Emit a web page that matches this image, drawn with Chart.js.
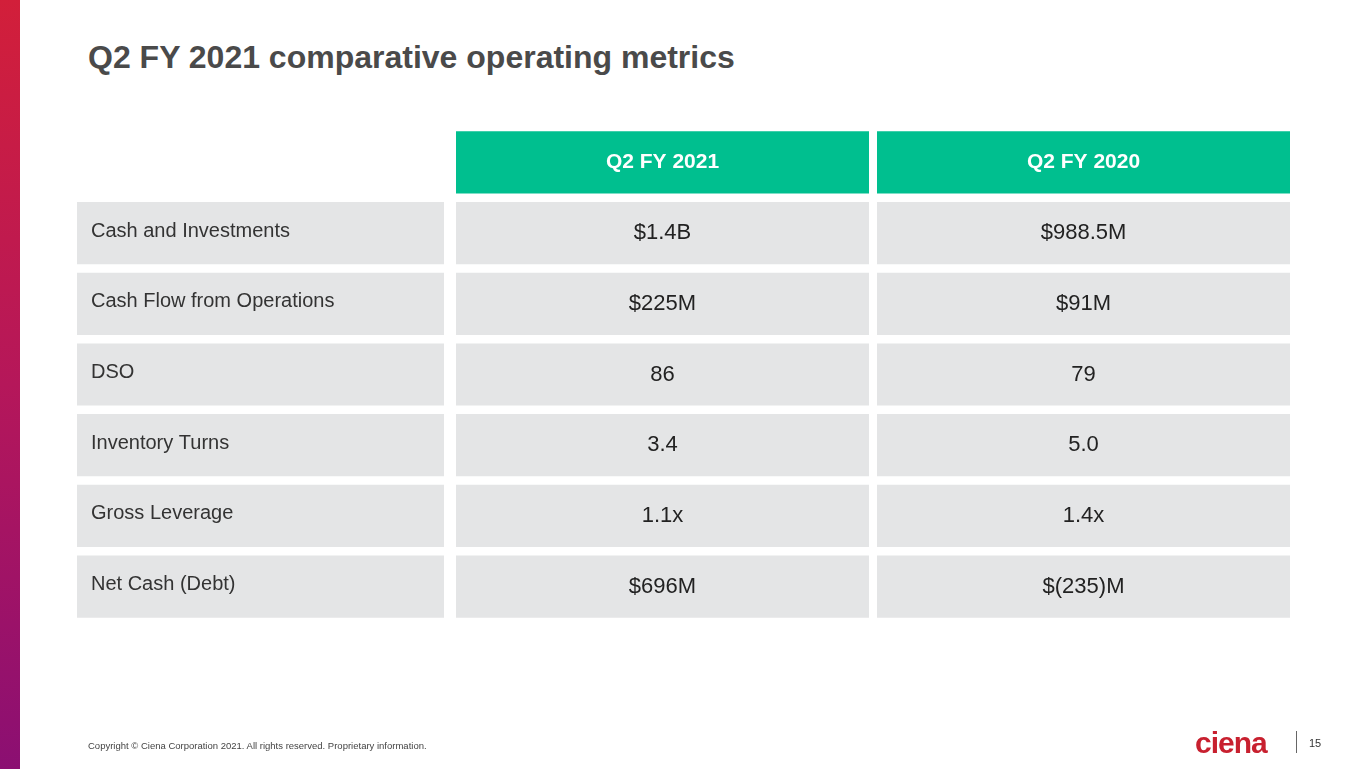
<!DOCTYPE html>
<html>
<head>
<meta charset="utf-8">
<script src="https://cdn.jsdelivr.net/npm/chart.js@4"></script>
<style>
  body { margin: 0; width: 1365px; height: 769px; overflow: hidden; background: #fff; font-family: "Liberation Sans", Arial, sans-serif; position: relative; }
  #strip { position: absolute; left: 0; top: 0; width: 20px; height: 769px; background: linear-gradient(#d21f3a, #b5175a 50%, #8b0f72); }
  h1 { position: absolute; left: 88px; top: 39px; margin: 0; font-size: 32px; font-weight: bold; color: #4a4a4a; }
  #copy { position: absolute; left: 88px; top: 740px; font-size: 9.5px; color: #444; }
  #logo { position: absolute; left: 1195px; top: 726px; font-size: 30px; font-weight: bold; color: #c8202f; letter-spacing: -1px; }
  #sep { position: absolute; left: 1296px; top: 731px; width: 1px; height: 22px; background: #666; }
  #page { position: absolute; left: 1309px; top: 737px; font-size: 11px; color: #333; }
  #wrap { position: absolute; left: 0; top: 0; width: 1365px; height: 769px; }
</style>
</head>
<body>
<div id="strip"></div>
<h1>Q2 FY 2021 comparative operating metrics</h1>
<div id="wrap"><canvas id="chart"></canvas></div>
<div id="copy">Copyright © Ciena Corporation 2021. All rights reserved. Proprietary information.</div>
<div id="logo">ciena</div>
<div id="sep"></div>
<div id="page">15</div>
<script>
// 表の中身
const rows = ["header", "Cash and Investments", "Cash Flow from Operations", "DSO", "Inventory Turns", "Gross Leverage", "Net Cash (Debt)"];
const columns = ["Q2 FY 2021", "Q2 FY 2020"];
const fy2021 = ["$1.4B", "$225M", "86", "3.4", "1.1x", "$696M"];
const fy2020 = ["$988.5M", "$91M", "79", "5.0", "1.4x", "$(235)M"];

// セルの横位置 (x軸の単位)
const labelSpan = [77, 444];
const col1Span = [456, 869];
const col2Span = [877, 1290];

const green = "#00bf8f";
const grey = "#e4e5e6";

function cellColors(headerColor) {
  return rows.map((r, i) => (i === 0 ? headerColor : grey));
}

const datasets = [
  { key: "label", data: rows.map((r, i) => (i === 0 ? null : labelSpan)), backgroundColor: grey, texts: rows.map((r, i) => (i === 0 ? "" : r)) },
  { key: "c1", data: rows.map(() => col1Span), backgroundColor: cellColors(green), texts: [columns[0], ...fy2021] },
  { key: "c2", data: rows.map(() => col2Span), backgroundColor: cellColors(green), texts: [columns[1], ...fy2020] },
];

// セルに文字を描く
const cellText = {
  id: "cellText",
  afterDatasetsDraw(chart) {
    const ctx = chart.ctx;
    ctx.save();
    ctx.textBaseline = "middle";
    chart.data.datasets.forEach((ds, di) => {
      chart.getDatasetMeta(di).data.forEach((bar, i) => {
        const t = ds.texts[i];
        if (!t) return;
        const p = bar.getProps(["x", "y", "base"], true);
        if (di === 0) {
          ctx.font = "20px 'Liberation Sans', Arial";
          ctx.fillStyle = "#333";
          ctx.textAlign = "left";
          ctx.fillText(t, p.base + 14, p.y - 2);
        } else if (i === 0) {
          ctx.font = "bold 21px 'Liberation Sans', Arial";
          ctx.fillStyle = "#fff";
          ctx.textAlign = "center";
          ctx.fillText(t, (p.x + p.base) / 2, p.y);
        } else {
          ctx.font = "22px 'Liberation Sans', Arial";
          ctx.fillStyle = "#222";
          ctx.textAlign = "center";
          ctx.fillText(t, (p.x + p.base) / 2, p.y);
        }
      });
    });
    ctx.restore();
  },
};

new Chart(document.getElementById("chart"), {
  type: "bar",
  data: { labels: rows, datasets: datasets },
  plugins: [cellText],
  options: {
    indexAxis: "y",
    responsive: true,
    maintainAspectRatio: false,
    animation: false,
    layout: { padding: { top: 127, bottom: 147, left: 0, right: 0 } },
    datasets: { bar: { grouped: false, barPercentage: 0.88, categoryPercentage: 1, borderSkipped: false } },
    scales: {
      x: { type: "linear", min: 0, max: 1365, display: false },
      y: { display: false },
    },
    plugins: { legend: { display: false }, tooltip: { enabled: false } },
  },
});
</script>
</body>
</html>
